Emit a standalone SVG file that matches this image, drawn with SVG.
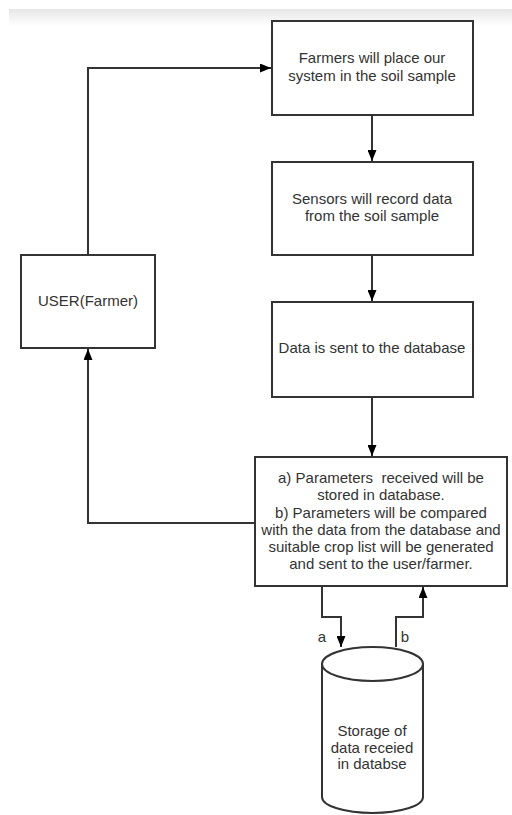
<svg xmlns="http://www.w3.org/2000/svg" width="512" height="815" viewBox="0 0 512 815">
<defs>
<linearGradient id="bar" x1="0" y1="0" x2="0" y2="1">
<stop offset="0" stop-color="#e6e6e6"/>
<stop offset="1" stop-color="#ffffff"/>
</linearGradient>
<marker id="ah" markerWidth="11" markerHeight="9" refX="11" refY="4.5" orient="auto" markerUnits="userSpaceOnUse">
<path d="M0,0 L11,4.5 L0,9 Z" fill="#000"/>
</marker>
<style>
.box{fill:#fff;stroke:#333;stroke-width:2}
.t{font-family:"Liberation Sans",Arial,sans-serif;font-size:15px;fill:#333;text-anchor:middle;white-space:pre}
.c{fill:none;stroke:#333;stroke-width:2}
</style>
</defs>
<rect x="0" y="0" width="512" height="815" fill="#fff"/>
<rect x="9" y="9" width="503" height="17" fill="url(#bar)"/>
<g id="connectors">
<path class="c" d="M88,255 V68 H271" marker-end="url(#ah)"/>
<path class="c" d="M372,115 V161" marker-end="url(#ah)"/>
<path class="c" d="M372,255 V301" marker-end="url(#ah)"/>
<path class="c" d="M372,397 V456" marker-end="url(#ah)"/>
<path class="c" d="M255,523 H88 V349" marker-end="url(#ah)"/>
<path class="c" d="M322,586 V617 H341 V647" marker-end="url(#ah)"/>
<path class="c" d="M396,647 V617 H423 V587" marker-end="url(#ah)"/>
<text class="t" x="322" y="642">a</text>
<text class="t" x="405" y="642">b</text>
</g>
<g id="n1">
<rect class="box" x="272" y="21" width="201" height="94"/>
<text class="t" x="372" y="63">Farmers will place our</text>
<text class="t" x="372" y="81">system in the soil sample</text>
</g>
<g id="n2">
<rect class="box" x="272" y="162" width="201" height="93"/>
<text class="t" x="372" y="204">Sensors will record data</text>
<text class="t" x="372" y="221">from the soil sample</text>
</g>
<g id="n3">
<rect class="box" x="272" y="302" width="201" height="95"/>
<text class="t" x="372" y="353">Data is sent to the database</text>
</g>
<g id="n4">
<rect class="box" x="255" y="457" width="252" height="129"/>
<text class="t" x="381" y="483">a) Parameters  received will be</text>
<text class="t" x="381" y="500">stored in database.</text>
<text class="t" x="381" y="518">b) Parameters will be compared</text>
<text class="t" x="381" y="535">with the data from the database and</text>
<text class="t" x="381" y="552">suitable crop list will be generated</text>
<text class="t" x="381" y="569">and sent to the user/farmer.</text>
</g>
<g id="user">
<rect class="box" x="21" y="255" width="134" height="93"/>
<text class="t" x="88" y="306">USER(Farmer)</text>
</g>
<g id="storage">
<path class="box" d="M322,664 V797 A50.5,16 0 0 0 423,797 V664"/>
<ellipse class="box" cx="372.5" cy="664" rx="50.5" ry="17"/>
<text class="t" x="372" y="736">Storage of</text>
<text class="t" x="372" y="753">data receied</text>
<text class="t" x="372" y="769">in databse</text>
</g>
</svg>
